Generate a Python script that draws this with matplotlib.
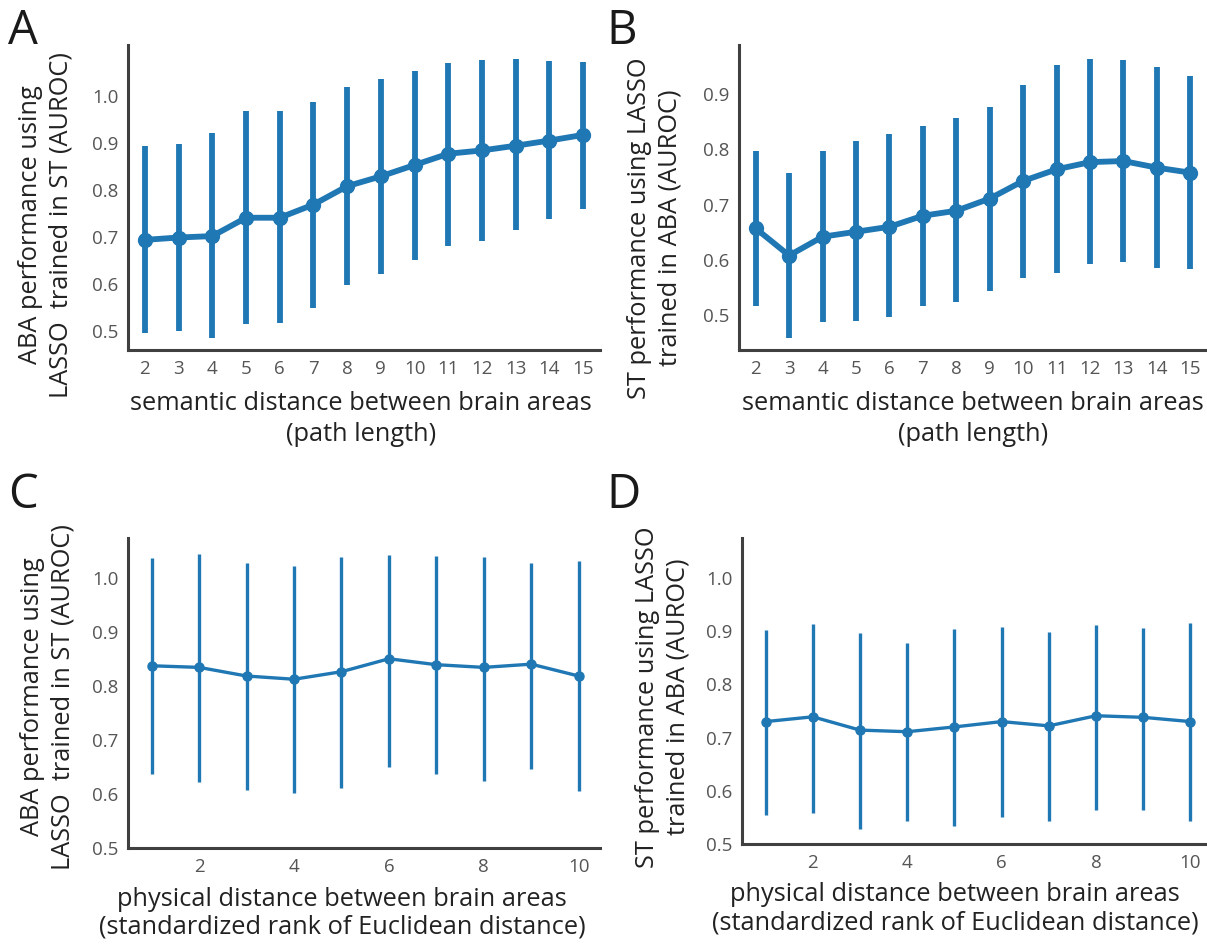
import matplotlib.pyplot as plt
import numpy as np

# semantic distance panels (A, B)
path_len = [2, 3, 4, 5, 6, 7, 8, 9, 10, 11, 12, 13, 14, 15]
a_mean = [0.694, 0.699, 0.702, 0.741, 0.741, 0.769, 0.808, 0.829, 0.853, 0.877, 0.884, 0.894, 0.905, 0.917]
a_low = [0.496, 0.501, 0.485, 0.516, 0.518, 0.550, 0.598, 0.621, 0.652, 0.681, 0.692, 0.714, 0.738, 0.759]
a_high = [0.893, 0.898, 0.921, 0.967, 0.967, 0.987, 1.018, 1.035, 1.053, 1.069, 1.076, 1.078, 1.074, 1.071]

b_mean = [0.657, 0.608, 0.642, 0.651, 0.660, 0.680, 0.689, 0.711, 0.743, 0.764, 0.777, 0.779, 0.767, 0.758]
b_low = [0.516, 0.459, 0.487, 0.489, 0.496, 0.516, 0.523, 0.544, 0.568, 0.576, 0.592, 0.597, 0.586, 0.583]
b_high = [0.797, 0.758, 0.798, 0.815, 0.828, 0.843, 0.856, 0.877, 0.917, 0.953, 0.963, 0.961, 0.950, 0.932]

# physical distance panels (C, D)
rank = [1, 2, 3, 4, 5, 6, 7, 8, 9, 10]
c_mean = [0.838, 0.835, 0.819, 0.813, 0.827, 0.851, 0.840, 0.835, 0.841, 0.819]
c_low = [0.637, 0.622, 0.608, 0.602, 0.612, 0.651, 0.637, 0.625, 0.647, 0.605]
c_high = [1.037, 1.045, 1.028, 1.023, 1.040, 1.044, 1.041, 1.039, 1.029, 1.033]

d_mean = [0.730, 0.739, 0.714, 0.711, 0.720, 0.730, 0.722, 0.741, 0.738, 0.730]
d_low = [0.555, 0.559, 0.529, 0.543, 0.533, 0.550, 0.544, 0.564, 0.564, 0.544]
d_high = [0.902, 0.914, 0.896, 0.877, 0.904, 0.908, 0.899, 0.912, 0.905, 0.916]

label_aba = 'ABA performance using\nLASSO  trained in ST (AUROC)'
label_st = 'ST performance using LASSO\ntrained in ABA (AUROC)'
xlab_sem = 'semantic distance between brain areas\n(path length)'
xlab_phys = 'physical distance between brain areas\n(standardized rank of Euclidean distance)'

plt.rcParams['font.family'] = ['Open Sans', 'DejaVu Sans']
blue = '#1f77b4'
spine_col = '#404040'
tick_col = '#555555'
text_col = '#222222'
lab_size = 18.3

W, H = 1207, 944
fig = plt.figure(figsize=(W / 100, H / 100), dpi=100)


def px_axes(left, top, right, bottom):
    return fig.add_axes([left / W, 1 - bottom / H, (right - left) / W, (bottom - top) / H])


def style(ax, ylim, yticks):
    for s in ['top', 'right']:
        ax.spines[s].set_visible(False)
    for s in ['left', 'bottom']:
        ax.spines[s].set_color(spine_col)
        ax.spines[s].set_linewidth(2.2)
    ax.set_ylim(*ylim)
    ax.set_yticks(yticks)
    ax.set_yticklabels(['%.1f' % t for t in yticks])
    ax.tick_params(length=0, labelsize=13.5, colors=tick_col, pad=7)


def draw(ax, x, mean, low, high, lw, ms):
    ax.vlines(x, low, high, color=blue, lw=lw)
    ax.plot(x, mean, '-o', color=blue, lw=lw, ms=ms)


def labels(ax, xlab, ylab, xpos, ylab_xy, xspacing=1.3):
    ax.set_xlabel(xlab, fontsize=lab_size, color=text_col, linespacing=xspacing)
    ax.set_ylabel(ylab, fontsize=lab_size, color=text_col, linespacing=1.3)
    ax.xaxis.set_label_coords(*xpos)
    ax.yaxis.set_label_coords(*ylab_xy)
    ax.xaxis.label.set_va('top')
    ax.yaxis.label.set_va('center')


xi = np.arange(len(path_len))

# A
ax = px_axes(128, 45, 600, 350)
draw(ax, xi, a_mean, a_low, a_high, 4.2, 10)
ax.set_xlim(-0.5, len(path_len) - 0.5)
ax.set_xticks(xi)
ax.set_xticklabels([str(p) for p in path_len])
style(ax, (0.46, 1.108), [0.5, 0.6, 0.7, 0.8, 0.9, 1.0])
labels(ax, xlab_sem, label_aba, (0.494, -0.135), (-0.175, 0.41))

# B
ax = px_axes(739, 45, 1207, 350)
draw(ax, xi, b_mean, b_low, b_high, 4.2, 10)
ax.set_xlim(-0.5, len(path_len) - 0.5)
ax.set_xticks(xi)
ax.set_xticklabels([str(p) for p in path_len])
style(ax, (0.437, 0.989), [0.5, 0.6, 0.7, 0.8, 0.9])
labels(ax, xlab_sem, label_st, (0.5, -0.135), (-0.18, 0.40))

# C
ax = px_axes(128, 538, 600, 848)
draw(ax, rank, c_mean, c_low, c_high, 2.4, 6.5)
ax.set_xlim(0.5, 10.45)
ax.set_xticks([2, 4, 6, 8, 10])
style(ax, (0.5, 1.075), [0.5, 0.6, 0.7, 0.8, 0.9, 1.0])
labels(ax, xlab_phys, label_aba, (0.453, -0.125), (-0.17, 0.487), 1.15)

# D
ax = px_axes(742, 538, 1207, 844)
draw(ax, rank, d_mean, d_low, d_high, 2.4, 6.5)
ax.set_xlim(0.5, 10.35)
ax.set_xticks([2, 4, 6, 8, 10])
style(ax, (0.5, 1.075), [0.5, 0.6, 0.7, 0.8, 0.9, 1.0])
labels(ax, xlab_phys, label_st, (0.458, -0.125), (-0.17, 0.48), 1.15)

# panel letters
for letter, x, y in [('A', 8, 44), ('B', 606, 44), ('C', 8, 508), ('D', 606, 508)]:
    fig.text(x / W, 1 - y / H, letter, fontsize=34, color='#1a1a1a', va='baseline')

fig.savefig('out.png', dpi=100)
